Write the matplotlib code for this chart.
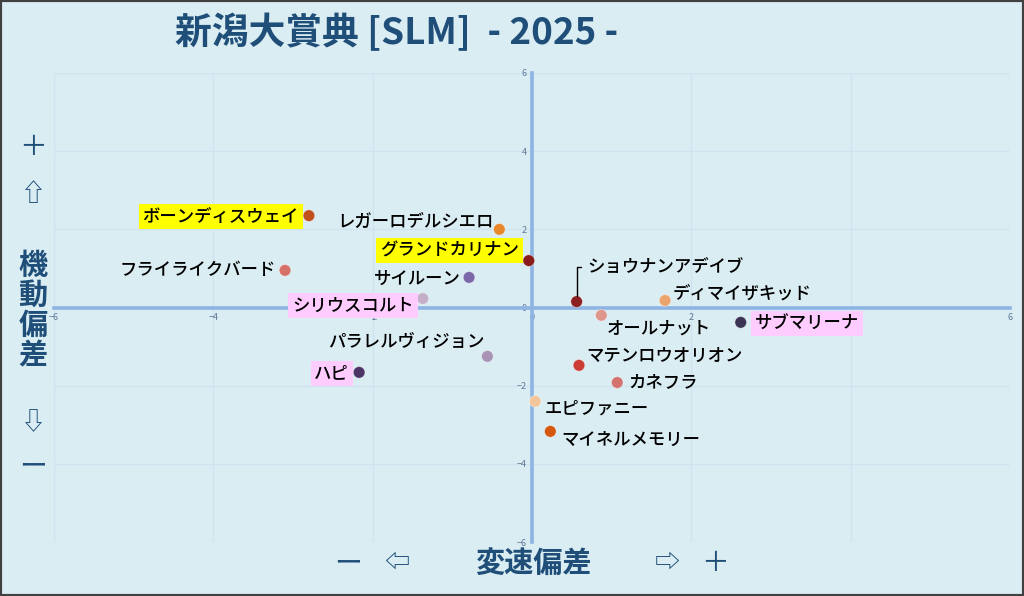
import matplotlib.pyplot as plt
from matplotlib.patches import Rectangle

plt.rcParams['font.family'] = ['Noto Sans CJK JP', 'DejaVu Sans']

# data
names = ['ボーンディスウェイ', 'レガーロデルシエロ', 'グランドカリナン', 'フライライクバード',
         'サイルーン', 'シリウスコルト', 'パラレルヴィジョン', 'ハピ',
         'ショウナンアデイブ', 'ディマイザキッド', 'オールナット', 'サブマリーナ',
         'マテンロウオリオン', 'カネフラ', 'エピファニー', 'マイネルメモリー']
speed = [-2.80, -0.41, -0.04, -3.10, -0.79, -1.37, -0.56, -2.17,
         0.56, 1.67, 0.87, 2.62, 0.59, 1.07, 0.04, 0.23]
mobility = [2.35, 2.00, 1.20, 0.95, 0.77, 0.23, -1.25, -1.66,
            0.15, 0.18, -0.20, -0.38, -1.48, -1.92, -2.40, -3.17]
colors = ['#c0501c', '#e8882c', '#8a1c1c', '#d6716a', '#7b68a8', '#c4aec8', '#a892b6', '#4c3466',
          '#8c2020', '#eaa46c', '#dc968c', '#3c3454', '#cc3c34', '#d47270', '#f2c69a', '#d4580e']
highlight = ['#ffff00', None, '#ffff00', None, None, '#ffccff', None, '#ffccff',
             None, None, None, '#ffccff', None, None, None, None]
ticks = [-6, -4, -2, 0, 2, 4, 6]

# label offsets (pixels, x right / y up)
offsets = [(-10, -1), (-6, 6), (-10, 10), (-9, 0), (-8, -1), (-9, -7), (-3, 14), (-10, -1),
           (11, 35), (8, 6), (5, -13), (14, -1), (7, 9), (11, 0), (9, -7), (11, -8)]

bg = '#daedf3'
navy = '#1f4e79'

fig = plt.figure(figsize=(10.24, 5.96), dpi=100, facecolor=bg)
ax = fig.add_axes([54 / 1024, 1 - 542 / 596, 956 / 1024, 469 / 596])
ax.set_facecolor(bg)
ax.set_xlim(-6, 6)
ax.set_ylim(-6, 6)
ax.set_xticks(ticks)
ax.set_yticks(ticks)
ax.grid(True, color='#d0e4ef', lw=1)
ax.set_axisbelow(True)
for s in ['top', 'right']:
    ax.spines[s].set_visible(False)
ax.spines['left'].set_position(('data', 0))
ax.spines['bottom'].set_position(('data', 0))
for s in ['left', 'bottom']:
    ax.spines[s].set_color('#8db4e2')
    ax.spines[s].set_linewidth(2.6)
    ax.spines[s].set_zorder(1)
ax.tick_params(length=0, labelsize=6.5, labelcolor='#5f7896', pad=4)

ax.scatter(speed, mobility, s=70, c=colors, edgecolors='#ffffff70', linewidths=0.6, zorder=3)

for i, name in enumerate(names):
    dx, dy = offsets[i]
    ha = 'right' if dx < 0 else 'left'
    kw = dict(fontsize=12.5, fontweight='medium', color='black', ha=ha, va='center', zorder=4,
              textcoords='offset points')
    if highlight[i]:
        kw['bbox'] = dict(boxstyle='square,pad=0.22', fc=highlight[i], ec='none')
    if name == 'ショウナンアデイブ':
        kw['arrowprops'] = dict(arrowstyle='-', color='black', lw=1, shrinkA=3, shrinkB=4,
                                connectionstyle='angle,angleA=0,angleB=90,rad=0',
                                relpos=(0, 0.5))
    ax.annotate(name, (speed[i], mobility[i]), xytext=(dx * 0.72, dy * 0.72), **kw)

# title
fig.text(175 / 1024, 1 - 33 / 596, '新潟大賞典 [SLM]  - 2025 -', fontsize=26.5, fontweight='bold',
         color=navy, ha='left', va='center')

# y label (vertical stack)
fig.text(33 / 1024, 1 - 147 / 596, '＋', fontsize=20, color=navy, ha='center', va='center')
fig.text(33 / 1024, 1 - 194 / 596, '⇧', fontsize=18, color=navy, ha='center', va='center')
for k, ch in enumerate('機動偏差'):
    fig.text(33 / 1024, 1 - (265 + 30 * k) / 596, ch, fontsize=21, fontweight='bold',
             color=navy, ha='center', va='center')
fig.text(33 / 1024, 1 - 423 / 596, '⇩', fontsize=18, color=navy, ha='center', va='center')
fig.text(33 / 1024, 1 - 466 / 596, 'ー', fontsize=20, color=navy, ha='center', va='center')

# x label
fig.text(348 / 1024, 1 - 563 / 596, 'ー', fontsize=20, color=navy, ha='center', va='center')
fig.text(397 / 1024, 1 - 563 / 596, '⇦', fontsize=18, color=navy, ha='center', va='center')
fig.text(533 / 1024, 1 - 563 / 596, '変速偏差', fontsize=21, fontweight='bold', color=navy,
         ha='center', va='center')
fig.text(667 / 1024, 1 - 563 / 596, '⇨', fontsize=18, color=navy, ha='center', va='center')
fig.text(715 / 1024, 1 - 563 / 596, '＋', fontsize=20, color=navy, ha='center', va='center')

fig.patches.append(Rectangle((0, 0), 1, 1, transform=fig.transFigure, fill=False,
                             ec='#404040', lw=3))

fig.savefig('out.png', dpi=100, facecolor=bg)
